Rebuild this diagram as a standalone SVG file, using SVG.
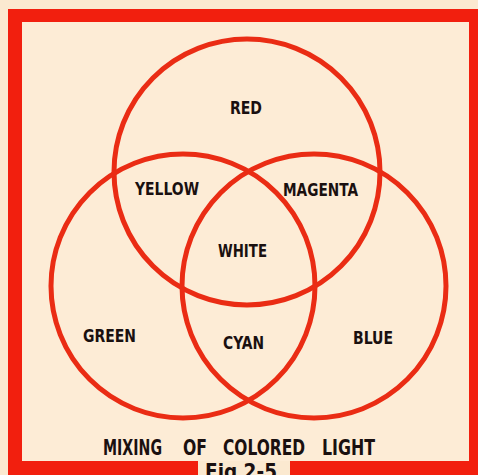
<svg xmlns="http://www.w3.org/2000/svg" width="478" height="475" viewBox="0 0 478 475">
<style>
.frame{fill:#f21f0e}
.ring{fill:none;stroke:#ea2c14;stroke-width:5}
.lbl{font-family:"DejaVu Sans Condensed","Liberation Sans Narrow","DejaVu Sans",sans-serif;font-weight:bold;font-size:18px;fill:#1a1010}
.ttl{font-family:"DejaVu Sans Condensed","Liberation Sans Narrow","DejaVu Sans",sans-serif;font-weight:bold;font-size:22px;fill:#1a1010}
</style>
<rect x="0" y="0" width="478" height="475" fill="#fbe9d0"/>
<rect x="22" y="22" width="447" height="439" fill="#fdecd6"/>
<g id="frame">
<rect class="frame" x="8" y="9" width="470" height="13"/>
<rect class="frame" x="8" y="9" width="14" height="466"/>
<rect class="frame" x="469" y="9" width="9" height="466"/>
<rect class="frame" x="8" y="461" width="190" height="14"/>
<rect class="frame" x="290" y="461" width="188" height="14"/>
</g>
<g id="connectors"></g>
<g id="circle-red"><circle class="ring" cx="247" cy="172" r="133"/></g>
<g id="circle-green"><circle class="ring" cx="183" cy="286" r="132"/></g>
<g id="circle-blue"><circle class="ring" cx="314" cy="286" r="132"/></g>
<g id="labels">
<text class="lbl" x="230" y="114" textLength="32" lengthAdjust="spacingAndGlyphs">RED</text>
<text class="lbl" x="135" y="195" textLength="64" lengthAdjust="spacingAndGlyphs">YELLOW</text>
<text class="lbl" x="283" y="196" textLength="75" lengthAdjust="spacingAndGlyphs">MAGENTA</text>
<text class="lbl" x="218" y="257" textLength="49" lengthAdjust="spacingAndGlyphs">WHITE</text>
<text class="lbl" x="83" y="342" textLength="53" lengthAdjust="spacingAndGlyphs">GREEN</text>
<text class="lbl" x="223" y="349" textLength="41" lengthAdjust="spacingAndGlyphs">CYAN</text>
<text class="lbl" x="353" y="344" textLength="40" lengthAdjust="spacingAndGlyphs">BLUE</text>
</g>
<g id="caption">
<text class="ttl" y="455"><tspan x="103" textLength="59" lengthAdjust="spacingAndGlyphs">MIXING</tspan><tspan x="183" textLength="24" lengthAdjust="spacingAndGlyphs">OF</tspan><tspan x="223" textLength="82" lengthAdjust="spacingAndGlyphs">COLORED</tspan><tspan x="322" textLength="53" lengthAdjust="spacingAndGlyphs">LIGHT</tspan></text>
<text class="ttl" x="205" y="479" textLength="72" lengthAdjust="spacingAndGlyphs">Fig 2-5</text>
</g>
</svg>
